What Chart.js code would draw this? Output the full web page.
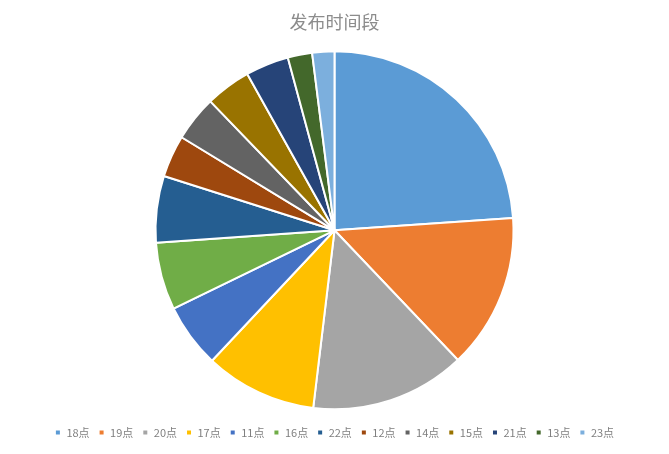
<!DOCTYPE html>
<html>
<head>
<meta charset="utf-8">
<script src="https://cdn.jsdelivr.net/npm/chart.js@4"></script>
<style>
  html, body { margin: 0; padding: 0; background: #fff; }
  #wrap { width: 669px; height: 454px; position: relative; }
</style>
</head>
<body>
<div id="wrap"><canvas id="chart"></canvas></div>
<script>
// 发布时间段 - share of posts per hour slot
const hours = ['18点', '19点', '20点', '17点', '11点', '16点', '22点', '12点', '14点', '15点', '21点', '13点', '23点'];
const shares = [23.9, 14.0, 14.0, 10.1, 5.8, 6.1, 6.0, 3.8, 4.1, 4.1, 3.9, 2.2, 2.0];
const sliceColors = ['#5b9bd5', '#ed7d31', '#a5a5a5', '#ffc000', '#4472c4', '#70ad47',
                     '#255e91', '#9e480e', '#636363', '#997300', '#264478', '#43682b', '#7cafdd'];

var ctx = document.getElementById('chart').getContext('2d');
new Chart(ctx, {
    type: 'pie',
    data: {
        labels: hours,
        datasets: [{
            data: shares,
            backgroundColor: sliceColors,
            borderColor: '#ffffff',
            borderWidth: 2,
            radius: 179
        }]
    },
    options: {
        responsive: true,
        maintainAspectRatio: false,
        animation: false,
        layout: { padding: { top: 6, bottom: 6 } },
        plugins: {
            title: {
                display: true,
                text: '发布时间段',
                color: '#8c8c8c',
                font: { family: '"Noto Sans CJK SC", sans-serif', size: 18, weight: 'normal' },
                padding: { top: 5, bottom: 10 }
            },
            legend: {
                display: true,
                position: 'bottom',
                labels: {
                    color: '#7f7f7f',
                    boxWidth: 6,
                    boxHeight: 6,
                    padding: 9,
                    font: { family: '"Noto Sans CJK SC", sans-serif', size: 11 }
                }
            },
            tooltip: { enabled: false }
        }
    }
});
</script>
</body>
</html>
